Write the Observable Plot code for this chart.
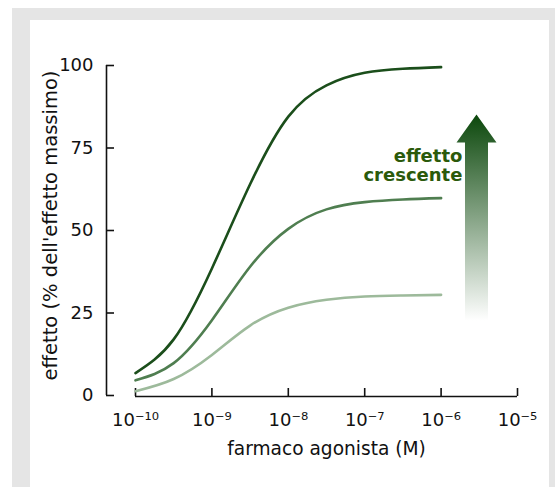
<!DOCTYPE html>
<html>
<head>
<meta charset="utf-8">
<script src="https://cdn.jsdelivr.net/npm/d3@7"></script>
<script src="https://cdn.jsdelivr.net/npm/@observablehq/plot@0.6"></script>
<style>
  html, body { margin: 0; padding: 0; background: #ffffff; }
  #bg { position: absolute; left: 12px; top: 8px; width: 543px; height: 479px; background: #e5e5e5; }
  #panel { position: absolute; left: 30px; top: 20px; width: 519px; height: 467px; background: #ffffff; }
  #chart { position: absolute; left: 0; top: 0; }
</style>
</head>
<body>
<div id="bg"></div>
<div id="panel"></div>
<div id="chart"></div>
<script>
// Concentrazione di agonista (M) e effetto (% dell'effetto massimo)
const concentrazioni = [1e-10, 3.16e-10, 1e-9, 3.16e-9, 1e-8, 3.16e-8, 1e-7, 3.16e-7, 1e-6];
const effettoPieno   = [6.8, 17.0, 38.5, 64.0, 84.5, 94.0, 97.8, 99.0, 99.5];
const effettoMedio   = [4.6,  9.8, 22.8, 39.0, 50.5, 56.4, 58.6, 59.4, 59.8];
const effettoBasso   = [1.3,  5.0, 12.3, 21.2, 26.6, 29.0, 30.0, 30.3, 30.5];
const serie = ["pieno", "medio", "basso"];
const coloriSerie = ["#1b4e1b", "#4f7e50", "#9dba9b"];

const xTicks = [1e-10, 1e-9, 1e-8, 1e-7, 1e-6, 1e-5];
const xTickLabels = ["10⁻¹⁰", "10⁻⁹", "10⁻⁸", "10⁻⁷", "10⁻⁶", "10⁻⁵"];
const yTicks = [0, 25, 50, 75, 100];
const xDomain = [1e-10, 1e-5];
const yDomain = [0, 100];

const xLabel = "farmaco agonista (M)";
const yLabel = "effetto (% dell'effetto massimo)";
const notaTesto = ["effetto\ncrescente"];
const notaX = [1.9e-6];
const notaY = [69.6];
// freccia: posizione x, base, base della punta, punta (in unità di dati)
const frecciaX = 2.95e-6;
const frecciaY = [22.5, 76.5, 85];

const rows = [];
[effettoPieno, effettoMedio, effettoBasso].forEach((vals, s) => {
  vals.forEach((v, i) => rows.push({serie: serie[s], conc: concentrazioni[i], effetto: v}));
});

const freccia = (index, {x, y}) => {
  const g = d3.create("svg:g");
  const cx = x(frecciaX);
  const yb = y(frecciaY[0]), yh = y(frecciaY[1]), yt = y(frecciaY[2]);
  const grad = g.append("defs").append("linearGradient")
    .attr("id", "gradFreccia").attr("gradientUnits", "userSpaceOnUse")
    .attr("x1", 0).attr("x2", 0).attr("y1", yt).attr("y2", yb);
  grad.append("stop").attr("offset", 0).attr("stop-color", "#0c480c");
  grad.append("stop").attr("offset", 1).attr("stop-color", "#ffffff");
  const sw = 11.5, hw = 20;
  g.append("path")
    .attr("d", `M${cx - sw},${yb}L${cx - sw},${yh}L${cx - hw},${yh}L${cx},${yt}L${cx + hw},${yh}L${cx + sw},${yh}L${cx + sw},${yb}Z`)
    .attr("fill", "url(#gradFreccia)");
  return g.node();
};

const plot = Plot.plot({
  width: 555,
  height: 487,
  marginLeft: 135,
  marginRight: 38,
  marginTop: 65,
  marginBottom: 92,
  style: {background: "transparent", fontFamily: "'DejaVu Sans', sans-serif", fontSize: "18px", color: "#111"},
  x: {type: "log", domain: xDomain},
  y: {domain: yDomain},
  color: {domain: serie, range: coloriSerie},
  marks: [
    Plot.ruleX([xDomain[0]], {y1: yDomain[0], y2: yDomain[1], dx: -29, stroke: "#111", strokeWidth: 1.6}),
    Plot.ruleY([0], {x1: xDomain[0], x2: xDomain[1], dy: 1, stroke: "#111", strokeWidth: 1.6}),
    Plot.axisY(yTicks, {anchor: "left", tickSize: 8, dx: -21, tickPadding: 13, strokeWidth: 1.6, label: null, fontSize: 18}),
    Plot.axisX(xTicks, {anchor: "bottom", tickSize: 8, dy: -7, tickPadding: 17, strokeWidth: 1.6, label: null, fontSize: 18,
      tickFormat: d => xTickLabels[xTicks.indexOf(d)]}),
    Plot.text([xLabel], {frameAnchor: "bottom", dy: 59, text: d => d, fontSize: 18.6, fill: "#111"}),
    Plot.text([yLabel], {frameAnchor: "left", textAnchor: "middle", rotate: -90, dx: -85, dy: -5, text: d => d, fontSize: 19.5, fill: "#111"}),
    Plot.line(rows, {x: "conc", y: "effetto", z: "serie", stroke: "serie", strokeWidth: 2.6, curve: "natural"}),
    freccia,
    Plot.text(notaTesto, {x: (d, i) => notaX[i], y: (d, i) => notaY[i], text: d => d, textAnchor: "end",
      fontWeight: "bold", fontSize: 18, lineHeight: 1.05, fill: "#2b5a0b"})
  ]
});
document.getElementById("chart").appendChild(plot);
</script>
</body>
</html>
